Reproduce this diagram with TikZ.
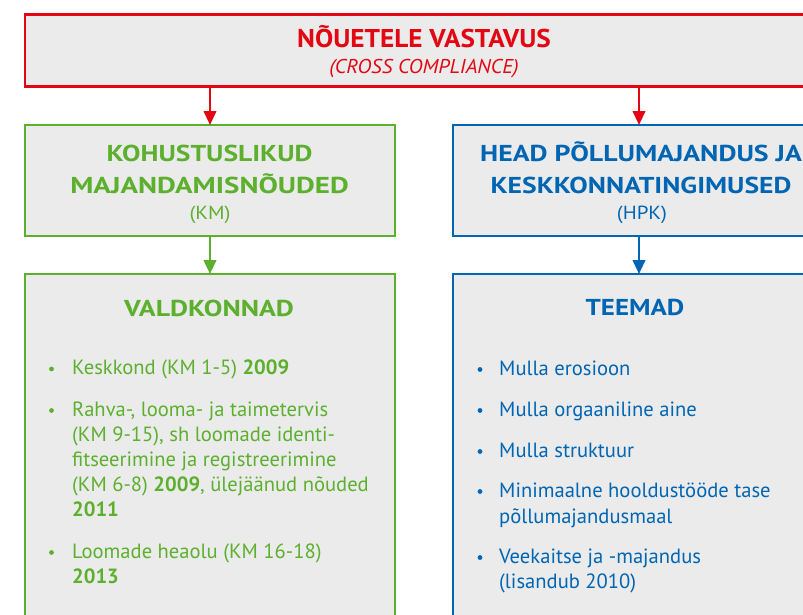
\documentclass[tikz,border=0pt]{standalone}
\usepackage{fontspec}
\setmainfont{PT Sans}
\usetikzlibrary{arrows.meta}
\definecolor{cred}{RGB}{227,6,19}
\definecolor{cgreen}{RGB}{92,176,46}
\definecolor{cblue}{RGB}{0,102,179}
\definecolor{boxfill}{RGB}{235,235,235}
\newcommand\myhs[2]{\scalebox{#1}[1]{#2}}
\begin{document}
\begin{tikzpicture}[x=1pt,y=-1pt,
  box/.style={draw=#1, line width=2.6pt, fill=boxfill, anchor=north west, inner sep=0pt, outer sep=0pt},
  arr/.style={draw=#1, line width=2.4pt, -{Triangle[length=14pt,width=12.5pt]}},
  lbl/.style={anchor=base, inner sep=0pt, text=#1},
  ttl/.style={font=\bfseries\fontsize{25.7}{30}\selectfont},
  sub/.style={font=\itshape\fontsize{20}{24}\selectfont},
  head/.style={font=\bfseries\fontsize{23}{28}\selectfont},
  abbr/.style={font=\fontsize{19}{22}\selectfont},
  item/.style={anchor=base west, inner sep=0pt, text=#1, font=\fontsize{20.6}{25}\selectfont},
  dot/.style={circle, fill=#1, inner sep=0pt, minimum size=4.8pt},
  ]
\useasboundingbox (0,0) rectangle (803,614);
\clip (0,0) rectangle (803,614);
\fill[white] (0,0) rectangle (803,614);
% boxes
\node[box=cred, minimum width=800pt, minimum height=72pt] (top) at (25,14.5) {};
\node[box=cgreen, minimum width=370pt, minimum height=111pt] (km) at (25,125) {};
\node[box=cblue, minimum width=372pt, minimum height=111pt] (hpk) at (453,125) {};
\node[box=cgreen, minimum width=370pt, minimum height=400pt] (val) at (25,274) {};
\node[box=cblue, minimum width=372pt, minimum height=400pt] (tee) at (453,274) {};
% arrows
\draw[arr=cred] (top.south -| km.north) -- (km.north);
\draw[arr=cred] (top.south -| hpk.north) -- (hpk.north);
\draw[arr=cgreen] (km.south) -- (val.north);
\draw[arr=cblue] (hpk.south) -- (tee.north);
% titles
\node[lbl=cred, ttl] (t1) at (424,47) {\myhs{1.06}{NÕUETELE VASTAVUS}};
\node[lbl=cred, sub] (t2) at (424,73) {\myhs{1.05}{(CROSS COMPLIANCE)}};
\node[lbl=cgreen, head] (k1) at (209.5,161) {\myhs{1.2}{KOHUSTUSLIKUD}};
\node[lbl=cgreen, head] (k2) at (209.5,193) {\myhs{1.26}{MAJANDAMISNÕUDED}};
\node[lbl=cgreen, abbr] (k3) at (210,219) {\myhs{1.1}{(KM)}};
\node[lbl=cblue, head] (h1) at (641,161.5) {\myhs{1.21}{HEAD PÕLLUMAJANDUS JA}};
\node[lbl=cblue, head] (h2) at (641,193) {\myhs{1.2}{KESKKONNATINGIMUSED}};
\node[lbl=cblue, abbr] (h3) at (642,219) {\myhs{1.1}{(HPK)}};
\node[lbl=cgreen, head] (v0) at (209,316) {\myhs{1.21}{VALDKONNAD}};
\node[lbl=cblue, head] (e0) at (635,315) {\myhs{1.17}{TEEMAD}};
% left list
\node[dot=cgreen] (bl1) at (51.5,369) {};
\node[item=cgreen] (l1) at (72,374.7) {Keskkond (KM 1-5) \textbf{2009}};
\node[dot=cgreen] (bl2) at (51.5,410.5) {};
\node[item=cgreen] (l2) at (72,416) {Rahva-, looma- ja taimetervis};
\node[item=cgreen] (l3) at (72,441) {(KM 9-15), sh loomade identi-};
\node[item=cgreen] (l4) at (72,466) {fitseerimine ja registreerimine};
\node[item=cgreen] (l5) at (72,491) {(KM 6-8) \textbf{2009}, ülejäänud nõuded};
\node[item=cgreen] (l6) at (72,516.7) {\textbf{2011}};
\node[dot=cgreen] (bl3) at (51.5,552.5) {};
\node[item=cgreen] (l7) at (72,558) {Loomade heaolu (KM 16-18)};
\node[item=cgreen] (l8) at (72,583) {\textbf{2013}};
% right list
\node[dot=cblue] (br1) at (480,369.5) {};
\node[item=cblue] (r1) at (499,375) {Mulla erosioon};
\node[dot=cblue] (br2) at (480,410.5) {};
\node[item=cblue] (r2) at (499,416) {Mulla orgaaniline aine};
\node[dot=cblue] (br3) at (480,451.5) {};
\node[item=cblue] (r3) at (499,457) {Mulla struktuur};
\node[dot=cblue] (br4) at (480,491.5) {};
\node[item=cblue] (r4) at (499,497) {Minimaalne hooldustööde tase};
\node[item=cblue] (r5) at (499,523) {põllumajandusmaal};
\node[dot=cblue] (br5) at (480,557.5) {};
\node[item=cblue] (r6) at (499,563) {Veekaitse ja -majandus};
\node[item=cblue] (r7) at (499,588) {(lisandub 2010)};
\end{tikzpicture}
\end{document}
